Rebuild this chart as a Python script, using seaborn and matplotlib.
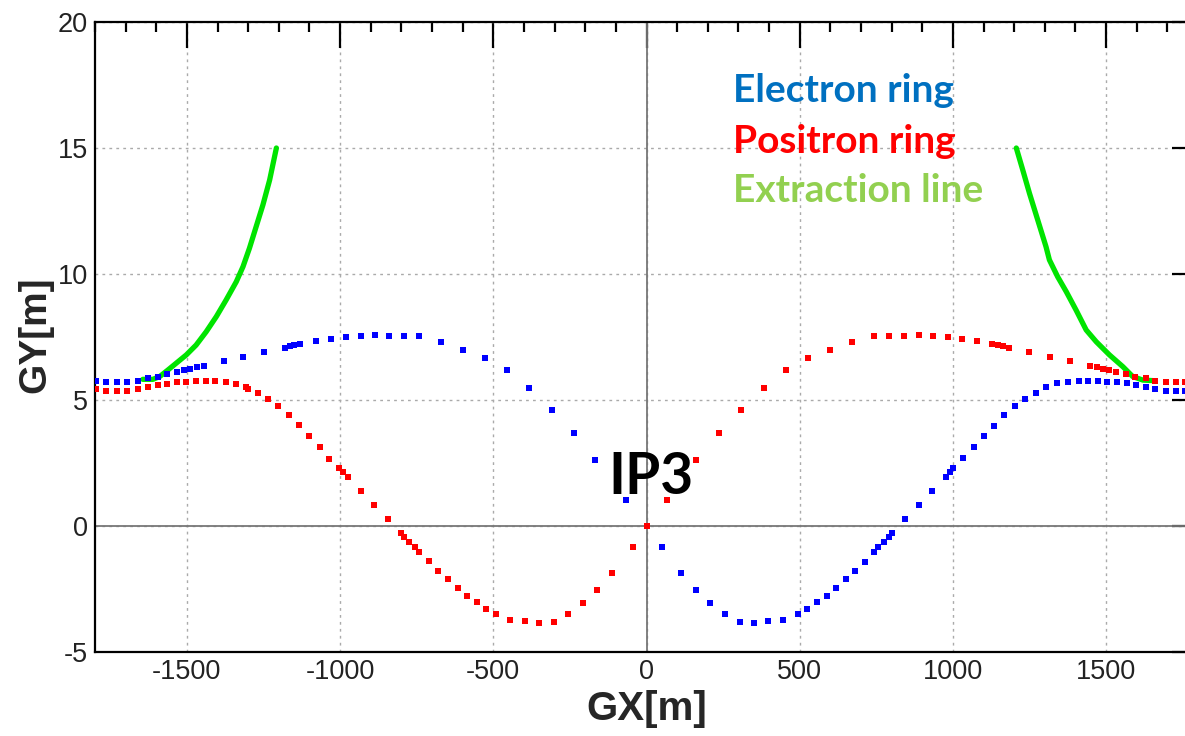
import matplotlib
matplotlib.use("Agg")
import matplotlib.pyplot as plt
from matplotlib.ticker import MultipleLocator
import seaborn as sns
import pandas as pd

# Beam orbits around interaction point IP3 (GX, GY in metres)
electron_x = [-1798, -1763, -1729, -1695, -1660, -1627, -1595, -1566, -1533, -1510,
              -1489, -1468, -1445, -1380, -1316, -1249, -1181, -1165, -1149, -1132,
              -1078, -1031, -982, -933, -887, -839, -790, -743, -672, -599,
              -526, -456, -384, -309, -238, -167, -68, 0, 49, 111,
              162, 208, 256, 304, 350, 397, 445, 494, 524, 556,
              588, 619, 652, 682, 713, 743, 757, 774, 790, 801,
              845, 889, 931, 978, 991, 1000, 1034, 1068, 1102, 1134,
              1167, 1202, 1236, 1271, 1305, 1340, 1376, 1411, 1442, 1473,
              1502, 1535, 1567, 1598, 1629, 1660, 1694, 1729, 1756]
electron_y = [5.77, 5.70, 5.70, 5.70, 5.77, 5.86, 5.93, 6.03, 6.12, 6.19,
              6.24, 6.30, 6.36, 6.53, 6.71, 6.89, 7.08, 7.13, 7.17, 7.22,
              7.33, 7.42, 7.49, 7.54, 7.59, 7.55, 7.55, 7.55, 7.30, 6.98,
              6.65, 6.18, 5.46, 4.60, 3.69, 2.62, 1.03, 0.0, -0.82, -1.88,
              -2.54, -3.07, -3.48, -3.81, -3.84, -3.77, -3.72, -3.50, -3.31, -3.03,
              -2.77, -2.46, -2.12, -1.79, -1.42, -1.04, -0.85, -0.62, -0.42, -0.29,
              0.26, 0.82, 1.39, 1.96, 2.15, 2.29, 2.69, 3.15, 3.57, 3.97,
              4.40, 4.76, 5.04, 5.29, 5.50, 5.66, 5.73, 5.77, 5.77, 5.77,
              5.73, 5.70, 5.66, 5.58, 5.52, 5.42, 5.36, 5.36, 5.36]

positron_x = [-1798, -1763, -1729, -1695, -1660, -1627, -1595, -1566, -1533, -1502,
              -1470, -1437, -1407, -1372, -1339, -1306, -1302, -1269, -1236, -1202,
              -1167, -1135, -1102, -1067, -1035, -1002, -991, -975, -931, -888,
              -843, -801, -790, -774, -757, -743, -711, -679, -648, -616,
              -585, -554, -525, -491, -444, -397, -351, -302, -257, -208,
              -161, -113, -45, 0, 67, 162, 238, 309, 382, 456,
              526, 599, 670, 744, 791, 840, 888, 934, 983, 1031,
              1079, 1128, 1147, 1165, 1183, 1250, 1316, 1383, 1448, 1470,
              1489, 1511, 1533, 1566, 1596, 1629, 1660, 1694, 1729, 1756]
positron_y = [5.42, 5.36, 5.36, 5.37, 5.42, 5.52, 5.58, 5.65, 5.71, 5.71,
              5.77, 5.77, 5.77, 5.71, 5.65, 5.50, 5.42, 5.29, 5.05, 4.76,
              4.40, 4.00, 3.57, 3.15, 2.67, 2.31, 2.15, 1.96, 1.38, 0.82,
              0.26, -0.29, -0.42, -0.62, -0.85, -1.04, -1.40, -1.80, -2.12, -2.46,
              -2.77, -3.02, -3.31, -3.50, -3.72, -3.77, -3.84, -3.81, -3.48, -3.07,
              -2.54, -1.88, -0.82, 0.0, 1.03, 2.62, 3.69, 4.60, 5.46, 6.18,
              6.65, 6.98, 7.30, 7.55, 7.55, 7.55, 7.59, 7.55, 7.49, 7.42,
              7.33, 7.22, 7.17, 7.13, 7.08, 6.89, 6.71, 6.53, 6.36, 6.30,
              6.24, 6.19, 6.12, 6.03, 5.93, 5.86, 5.77, 5.70, 5.70, 5.70]

extraction_left_x = [-1644, -1611, -1589, -1562, -1535, -1502, -1470, -1437, -1404,
                     -1372, -1339, -1317, -1296, -1274, -1252, -1230, -1208]
extraction_left_y = [5.82, 5.82, 5.93, 6.19, 6.46, 6.79, 7.18, 7.71, 8.31,
                     8.97, 9.69, 10.29, 11.02, 11.88, 12.74, 13.73, 15.0]
extraction_right_x = [1207, 1228, 1250, 1277, 1304, 1315, 1342, 1370, 1402,
                      1435, 1468, 1511, 1555, 1587, 1620, 1652]
extraction_right_y = [15.0, 14.13, 13.20, 12.14, 11.08, 10.56, 9.89, 9.30, 8.57,
                      7.78, 7.31, 6.79, 6.32, 5.93, 5.79, 5.77]

legend_labels = ["Electron ring", "Positron ring", "Extraction line"]
legend_colors = ["#0070C0", "#FF0000", "#92D050"]

sns.set_style("white")
plt.rcParams["font.family"] = ["Liberation Sans", "DejaVu Sans"]
plt.rcParams["axes.unicode_minus"] = False

fig = plt.figure(figsize=(11.85, 7.36), dpi=100)
ax = fig.add_axes([95 / 1185, 84 / 736, 1103 / 1185, 630 / 736])

green = "#00E400"
for gx, gy in [(extraction_left_x, extraction_left_y),
               (extraction_right_x, extraction_right_y)]:
    sns.lineplot(data=pd.DataFrame({"GX": gx, "GY": gy}), x="GX", y="GY",
                 sort=False, estimator=None, color=green, lw=3.8,
                 ax=ax, zorder=3)

sns.scatterplot(data=pd.DataFrame({"GX": electron_x, "GY": electron_y}),
                x="GX", y="GY", marker="s", s=16, color="#0000FF",
                linewidth=0, ax=ax, zorder=4)
sns.scatterplot(data=pd.DataFrame({"GX": positron_x, "GY": positron_y}),
                x="GX", y="GY", marker="s", s=16, color="#FF0000",
                linewidth=0, ax=ax, zorder=4)

ax.set_xlim(-1800, 1800)
ax.set_ylim(-5, 20)

# Frame and ticks
for side in ax.spines.values():
    side.set_linewidth(1.6)
    side.set_color("black")
ax.xaxis.set_major_locator(MultipleLocator(500))
ax.xaxis.set_minor_locator(MultipleLocator(100))
ax.yaxis.set_major_locator(MultipleLocator(5))
ax.yaxis.set_minor_locator(MultipleLocator(1))
ax.tick_params(which="both", direction="in", top=True, right=True,
               width=1.6, color="black")
ax.tick_params(which="major", length=19, labelsize=19.5, pad=5,
               labelcolor="#222222")
ax.tick_params(which="minor", length=7.5)

ax.grid(True, which="major", color="#aaaaaa", linestyle=(0, (2, 3)), lw=1.0)
ax.axhline(0, color="#777777", lw=1.3, zorder=1)
ax.axvline(0, color="#777777", lw=1.3, zorder=1)

ax.set_xlabel("GX[m]", fontsize=29, fontweight="bold", va="center")
ax.set_ylabel("GY[m]", fontsize=28, fontweight="bold", va="center")
ax.xaxis.set_label_coords(0.5005, -0.09)
ax.yaxis.set_label_coords(-0.054, 0.503)

ax.text(16, 1.94, "IP3", fontsize=41, fontweight="bold", family="Lato",
        ha="center", va="center", color="black", zorder=5)

for label, color, ypos in zip(legend_labels, legend_colors, [16.83, 14.80, 12.86]):
    ax.text(281, ypos, label, fontsize=28, fontweight="bold", family="Lato",
            color=color, ha="left", va="baseline", zorder=5)

fig.savefig("out.png", dpi=100)
